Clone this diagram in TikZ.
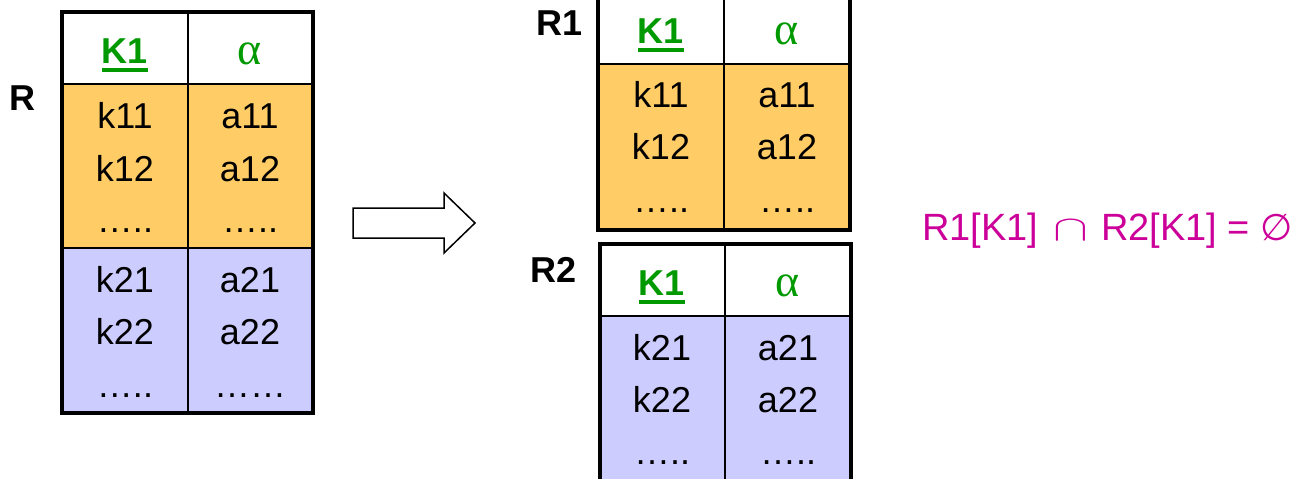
\documentclass[tikz,border=0pt]{standalone}
\usepackage{graphicx}
\usepackage{fontspec}
\setmainfont{Liberation Sans}
\newfontfamily\grk{Liberation Serif}
\newfontfamily\symf{DejaVu Sans}
\definecolor{orng}{HTML}{FFCC66}
\definecolor{lav}{HTML}{CCCCFF}
\definecolor{grn}{HTML}{009900}
\definecolor{mag}{HTML}{CC0099}
\begin{document}
\begin{tikzpicture}[x=1pt,y=-1pt,
  cell/.style={anchor=base, inner sep=0pt, font=\fontsize{36}{40}\selectfont},
  hdr/.style={anchor=base, inner sep=0pt, text=grn, font=\fontsize{36}{40}\selectfont\bfseries},
  alph/.style={anchor=base, inner sep=0pt, text=grn, font=\fontsize{46}{48}\selectfont\grk},
  uline/.style={draw=grn, line width=4pt},
  outer/.style={draw=black, line width=4pt},
  inner/.style={draw=black, line width=2pt},
  lbl/.style={anchor=base, inner sep=0pt, font=\fontsize{36}{40}\selectfont\bfseries},
  blockarrow/.style={draw=black, line width=1.5pt, fill=white, line join=miter}]
\useasboundingbox (0,0) rectangle (1312,479);

% ---------- table R ----------
\fill[white] (62,12) rectangle (313,84);
\fill[orng] (62,84) rectangle (313,248);
\fill[lav] (62,248) rectangle (313,413);
\draw[inner] (62,84) -- (313,84) (62,248) -- (313,248) (188,12) -- (188,413);
\draw[outer] (62,12) rectangle (313,413);
\node[lbl] (rlab) at (22,110) {R};
\node[hdr] (rk) at (125,63) {K1};
\draw[uline] ([yshift=-7pt]rk.base west) -- ([yshift=-7pt]rk.base east);
\node[alph] (ra) at (250,64) {α};
\node[cell] (r11) at (125,128) {k11};
\node[cell] (r12) at (125,181) {k12};
\node[cell] (r13) at (125,232) {…..};
\node[cell] (r21) at (125,292) {k21};
\node[cell] (r22) at (125,344) {k22};
\node[cell] (r23) at (125,397) {…..};
\node[cell] (s11) at (250,128) {a11};
\node[cell] (s12) at (250,181) {a12};
\node[cell] (s13) at (250,232) {…..};
\node[cell] (s21) at (250,292) {a21};
\node[cell] (s22) at (250,344) {a22};
\node[cell] (s23) at (250,397) {……};

% ---------- arrow ----------
\draw[blockarrow] (353,208) -- (444,208) -- (444,193) -- (475,223) -- (444,253) -- (444,238) -- (353,238) -- cycle;

% ---------- table R1 ----------
\fill[white] (598,-4) rectangle (849.5,64);
\fill[orng] (598,64) rectangle (849.5,229.5);
\draw[inner] (598,64) -- (849.5,64) (724,-4) -- (724,229.5);
\draw[outer] (598,-4) rectangle (849.5,229.5);
\node[lbl] (r1lab) at (560,35) {R1};
\node[hdr] (r1k) at (661,43) {K1};
\draw[uline] ([yshift=-7pt]r1k.base west) -- ([yshift=-7pt]r1k.base east);
\node[alph] (r1a) at (787,44) {α};
\node[cell] (p11) at (661,107) {k11};
\node[cell] (p12) at (661,159) {k12};
\node[cell] (p13) at (661,212) {…..};
\node[cell] (q11) at (787,107) {a11};
\node[cell] (q12) at (787,159) {a12};
\node[cell] (q13) at (787,212) {…..};

% ---------- table R2 ----------
\fill[white] (599.5,244) rectangle (851,316);
\fill[lav] (599.5,316) rectangle (851,490);
\draw[inner] (599.5,316) -- (851,316) (725,244) -- (725,490);
\draw[outer] (599.5,244) rectangle (851,490);
\node[lbl] (r2lab) at (554,282) {R2};
\node[hdr] (r2k) at (662,295) {K1};
\draw[uline] ([yshift=-7pt]r2k.base west) -- ([yshift=-7pt]r2k.base east);
\node[alph] (r2a) at (788,296) {α};
\node[cell] (u21) at (662,360) {k21};
\node[cell] (u22) at (662,412) {k22};
\node[cell] (u23) at (662,464) {…..};
\node[cell] (v21) at (788,360) {a21};
\node[cell] (v22) at (788,412) {a22};
\node[cell] (v23) at (788,464) {…..};

% ---------- formula ----------
\node[anchor=base west, inner sep=0pt, text=mag, font=\fontsize{38}{44}\selectfont] (formula) at (922,240)
  {R1[K1]\hspace{15pt}\scalebox{2.1}[1.45]{$\cap$}\hspace{13pt}R2[K1] = {\symf\fontsize{37}{40}\selectfont ∅}};
\end{tikzpicture}
\end{document}
